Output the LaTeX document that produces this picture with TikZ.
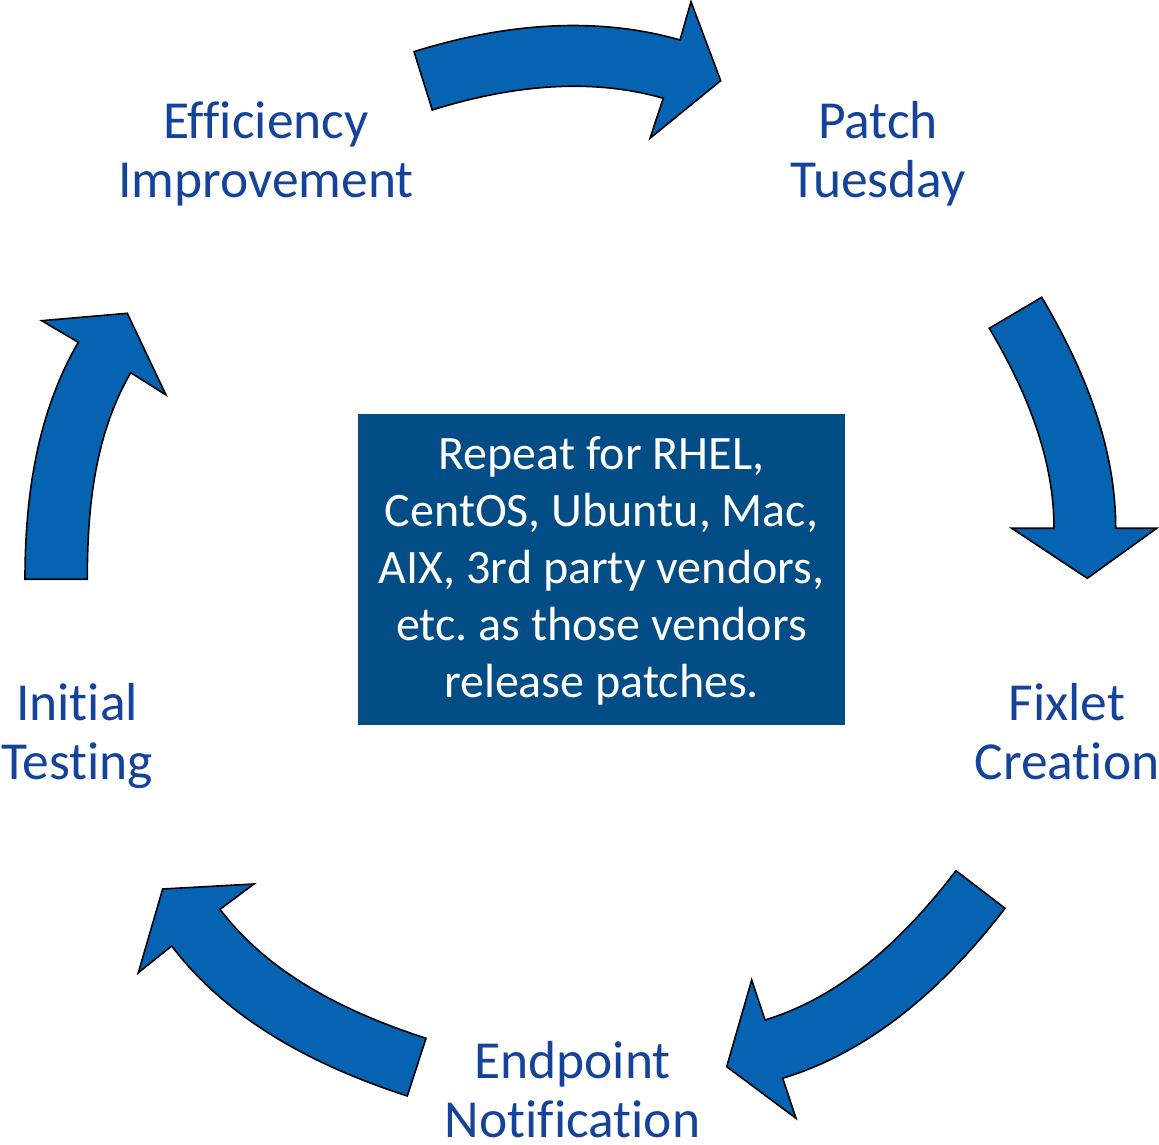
\documentclass[tikz,border=0pt]{standalone}
\usepackage{fontspec}
\setmainfont{Carlito}[Ligatures=NoCommon]
\frenchspacing
\definecolor{arrowblue}{HTML}{0563B1}
\definecolor{boxblue}{HTML}{024D86}
\definecolor{labelblue}{HTML}{15439A}
\begin{document}
\begin{tikzpicture}[x=1pt,y=1pt,
  cyclearrow/.style={fill=arrowblue,draw=black,line width=1.6pt,line join=miter},
  edge/.style={looseness=0.87},
  steplabel/.style={text=labelblue,align=center,anchor=base,inner sep=0pt,
    font=\fontsize{53.5}{59}\selectfont},
  notebox/.style={fill=boxblue,draw=none,minimum width=487pt,minimum height=311pt,inner sep=0pt},
  notetext/.style={text=white,align=center,anchor=base,inner sep=0pt,
    font=\fontsize{48}{57}\selectfont}]
\useasboundingbox (0,0) rectangle (1159,1145);

% arrows
% top: Efficiency -> Patch
\draw[cyclearrow] (432.3,1035) to[edge,out=17.4,in=164] (663.3,1046.7) -- (650,1006.7) -- (720.7,1064.3)
  -- (691,1143.3) -- (680,1105) to[edge,out=164,in=17.4] (414,1093.3) -- cycle;
% right: Patch -> Fixlet
\draw[cyclearrow] (989.3,816.7) to[edge,out=-59.4,in=90] (1054,616.7) -- (1011.7,616.7) -- (1087.3,566.7)
  -- (1156.7,616.7) -- (1115.7,616.7) to[edge,out=90,in=-59.4] (1041.7,847.7) -- cycle;
% bottom right: Fixlet -> Endpoint
\draw[cyclearrow] (956,274.3) to[edge,out=-127.5,in=16.9] (765,125) -- (751.7,165) -- (726.7,78.3)
  -- (796,26.7) -- (782.7,66.7) to[edge,out=16.9,in=-127.5] (1005,236.7) -- cycle;
% bottom left: Endpoint -> Initial
\draw[cyclearrow] (426,106.7) to[edge,out=162,in=-52.8] (220,235.7) -- (254,261) -- (162.7,256)
  -- (138.3,172.3) -- (171.7,199) to[edge,out=-52.8,in=162] (407.3,49) -- cycle;
% left: Initial -> Efficiency
\draw[cyclearrow] (87.3,565.7) to[edge,out=90,in=-120.1] (130.7,772.3) -- (166,750) -- (127.3,831.7)
  -- (41.7,824.3) -- (78.3,802.7) to[edge,out=-120.1,in=90] (25,565.7) -- cycle;

% labels (anchor = baseline of last line)
\node[steplabel] (patch) at (878,947.7) {Patch\\Tuesday};
\node[steplabel] (fixlet) at (1067,365) {Fixlet\\Creation};
\node[steplabel] (endpoint) at (572.5,7) {Endpoint\\Notification};
\node[steplabel] (initial) at (77,365) {Initial\\Testing};
\node[steplabel] (effi) at (266,947) {Efficiency\\Improvement};

% centre box
\node[notebox] (box) at (601.5,575.5) {};
\node[notetext] (note) at (601.5,447.7) {Repeat for RHEL,\\CentOS, Ubuntu, Mac,\\AIX, 3rd party vendors,\\etc. as those vendors\\release patches.};
\end{tikzpicture}
\end{document}
